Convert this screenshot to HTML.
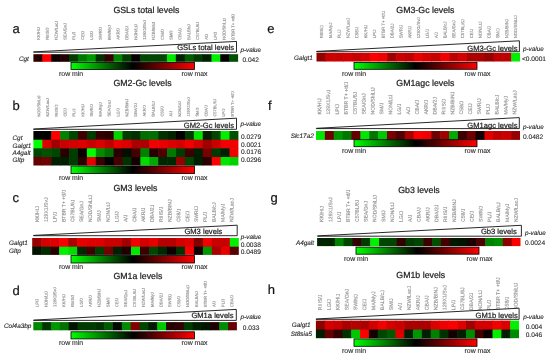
<!DOCTYPE html><html><head><meta charset="utf-8"><style>html,body{margin:0;padding:0;background:#fff;width:550px;height:359px;overflow:hidden}svg{display:block;will-change:transform;filter:blur(0.3px)}</style></head><body>
<svg width="550" height="359" viewBox="0 0 550 359" font-family='"Liberation Sans", sans-serif'>
<defs><linearGradient id="cbg" x1="0" x2="1" y1="0" y2="0"><stop offset="0" stop-color="#00ff00"/><stop offset="0.5" stop-color="#000"/><stop offset="1" stop-color="#ff0000"/></linearGradient></defs>
<style>.k{stroke:#222;stroke-width:0.22px}.s{stroke-width:0.12px}text{text-rendering:geometricPrecision}</style>
<rect width="550" height="359" fill="#fff"/>
<g><text x="12.4" y="33.0" font-size="13" fill="#111" class="k">a</text><text x="113.4" y="12.8" font-size="8.8" fill="#222" class="k">GSLs total levels</text><text transform="translate(39.93,39.80) rotate(-89.7) scale(0.25)" text-rendering="geometricPrecision" font-size="16.40" fill="#959595" stroke="#959595" stroke-width="0.6">KK/HIJ</text><text transform="translate(48.76,39.80) rotate(-89.7) scale(0.25)" text-rendering="geometricPrecision" font-size="16.40" fill="#959595" stroke="#959595" stroke-width="0.6">RIIIS/J</text><text transform="translate(57.60,39.80) rotate(-89.7) scale(0.25)" text-rendering="geometricPrecision" font-size="16.40" fill="#959595" stroke="#959595" stroke-width="0.6">NZW/LacJ</text><text transform="translate(66.44,39.80) rotate(-89.7) scale(0.25)" text-rendering="geometricPrecision" font-size="16.40" fill="#959595" stroke="#959595" stroke-width="0.6">SEA/GnJ</text><text transform="translate(75.28,39.80) rotate(-89.7) scale(0.25)" text-rendering="geometricPrecision" font-size="16.40" fill="#959595" stroke="#959595" stroke-width="0.6">PL/J</text><text transform="translate(84.12,39.80) rotate(-89.7) scale(0.25)" text-rendering="geometricPrecision" font-size="16.40" fill="#959595" stroke="#959595" stroke-width="0.6">CE/J</text><text transform="translate(92.96,39.80) rotate(-89.7) scale(0.25)" text-rendering="geometricPrecision" font-size="16.40" fill="#959595" stroke="#959595" stroke-width="0.6">LG/J</text><text transform="translate(101.80,39.80) rotate(-89.7) scale(0.25)" text-rendering="geometricPrecision" font-size="16.40" fill="#959595" stroke="#959595" stroke-width="0.6">SWR/J</text><text transform="translate(110.64,39.80) rotate(-89.7) scale(0.25)" text-rendering="geometricPrecision" font-size="16.40" fill="#959595" stroke="#959595" stroke-width="0.6">MA/MyJ</text><text transform="translate(119.47,39.80) rotate(-89.7) scale(0.25)" text-rendering="geometricPrecision" font-size="16.40" fill="#959595" stroke="#959595" stroke-width="0.6">AKR/J</text><text transform="translate(128.31,39.80) rotate(-89.7) scale(0.25)" text-rendering="geometricPrecision" font-size="16.40" fill="#959595" stroke="#959595" stroke-width="0.6">DBA/2J</text><text transform="translate(137.15,39.80) rotate(-89.7) scale(0.25)" text-rendering="geometricPrecision" font-size="16.40" fill="#959595" stroke="#959595" stroke-width="0.6">NON/LtJ</text><text transform="translate(145.99,39.80) rotate(-89.7) scale(0.25)" text-rendering="geometricPrecision" font-size="16.40" fill="#959595" stroke="#959595" stroke-width="0.6">129X1/SvJ</text><text transform="translate(154.83,39.80) rotate(-89.7) scale(0.25)" text-rendering="geometricPrecision" font-size="16.40" fill="#959595" stroke="#959595" stroke-width="0.6">NZB/BINJ</text><text transform="translate(163.67,39.80) rotate(-89.7) scale(0.25)" text-rendering="geometricPrecision" font-size="16.40" fill="#959595" stroke="#959595" stroke-width="0.6">C58/J</text><text transform="translate(172.51,39.80) rotate(-89.7) scale(0.25)" text-rendering="geometricPrecision" font-size="16.40" fill="#959595" stroke="#959595" stroke-width="0.6">SM/J</text><text transform="translate(181.34,39.80) rotate(-89.7) scale(0.25)" text-rendering="geometricPrecision" font-size="16.40" fill="#959595" stroke="#959595" stroke-width="0.6">CBA/J</text><text transform="translate(190.18,39.80) rotate(-89.7) scale(0.25)" text-rendering="geometricPrecision" font-size="16.40" fill="#959595" stroke="#959595" stroke-width="0.6">BALB/cJ</text><text transform="translate(199.02,39.80) rotate(-89.7) scale(0.25)" text-rendering="geometricPrecision" font-size="16.40" fill="#959595" stroke="#959595" stroke-width="0.6">C57BL/6J</text><text transform="translate(207.86,39.80) rotate(-89.7) scale(0.25)" text-rendering="geometricPrecision" font-size="16.40" fill="#959595" stroke="#959595" stroke-width="0.6">A/J</text><text transform="translate(216.70,39.80) rotate(-89.7) scale(0.25)" text-rendering="geometricPrecision" font-size="16.40" fill="#959595" stroke="#959595" stroke-width="0.6">LP/J</text><text transform="translate(225.54,39.80) rotate(-89.7) scale(0.25)" text-rendering="geometricPrecision" font-size="16.40" fill="#959595" stroke="#959595" stroke-width="0.6">NOD/ShiLtJ</text><text transform="translate(234.38,39.80) rotate(-89.7) scale(0.25)" text-rendering="geometricPrecision" font-size="16.40" fill="#959595" stroke="#959595" stroke-width="0.6">BTBR T+ +tf/J</text><polygon points="33.5,51.900000000000006 236.5,41.4 236.5,52.2 33.5,52.2" fill="#fff" stroke="#111" stroke-width="0.9" stroke-linejoin="miter"/><text x="177.2" y="50.4" font-size="7.6" fill="#222" class="k">GSLs total levels</text><rect x="33.40" y="54.2" width="9.50" height="7.60" fill="rgb(40,0,0)"/><rect x="42.30" y="54.2" width="9.50" height="7.60" fill="rgb(255,0,0)"/><rect x="51.20" y="54.2" width="9.50" height="7.60" fill="rgb(10,0,0)"/><rect x="60.10" y="54.2" width="9.50" height="7.60" fill="rgb(35,0,0)"/><rect x="69.00" y="54.2" width="9.50" height="7.60" fill="rgb(0,60,0)"/><rect x="77.90" y="54.2" width="9.50" height="7.60" fill="rgb(0,120,0)"/><rect x="86.80" y="54.2" width="9.50" height="7.60" fill="rgb(0,150,0)"/><rect x="95.70" y="54.2" width="9.50" height="7.60" fill="rgb(0,50,0)"/><rect x="104.60" y="54.2" width="9.50" height="7.60" fill="rgb(50,0,0)"/><rect x="113.50" y="54.2" width="9.50" height="7.60" fill="rgb(0,130,0)"/><rect x="122.40" y="54.2" width="9.50" height="7.60" fill="rgb(0,60,0)"/><rect x="131.30" y="54.2" width="9.50" height="7.60" fill="rgb(0,0,0)"/><rect x="140.20" y="54.2" width="9.50" height="7.60" fill="rgb(0,70,0)"/><rect x="149.10" y="54.2" width="9.50" height="7.60" fill="rgb(0,70,0)"/><rect x="158.00" y="54.2" width="9.50" height="7.60" fill="rgb(0,70,0)"/><rect x="166.90" y="54.2" width="9.50" height="7.60" fill="rgb(0,230,0)"/><rect x="175.80" y="54.2" width="9.50" height="7.60" fill="rgb(0,30,0)"/><rect x="184.70" y="54.2" width="9.50" height="7.60" fill="rgb(0,90,0)"/><rect x="193.60" y="54.2" width="9.50" height="7.60" fill="rgb(0,60,0)"/><rect x="202.50" y="54.2" width="9.50" height="7.60" fill="rgb(0,30,0)"/><rect x="211.40" y="54.2" width="9.50" height="7.60" fill="rgb(0,240,0)"/><rect x="220.30" y="54.2" width="9.50" height="7.60" fill="rgb(0,0,0)"/><rect x="229.20" y="54.2" width="8.90" height="7.60" fill="rgb(0,80,0)"/><text x="18.9" y="60.6" font-size="6.4" font-style="italic" fill="#2a2a2a" class="k s">Cgt</text><text x="240.4" y="51.8" font-size="6.3" font-style="italic" fill="#2a2a2a" class="k s">p-value</text><text x="242.4" y="61.8" font-size="6.6" fill="#2a2a2a" class="k s">0.042</text><rect x="71" y="62.4" width="123.5" height="7.10" fill="url(#cbg)" stroke="#000" stroke-width="0.8"/><text x="59.0" y="75.8" font-size="6.9" fill="#333" class="k s">row min</text><text x="181.5" y="75.8" font-size="6.9" fill="#333" class="k s">row max</text></g>
<g><text x="12.4" y="110.0" font-size="13" fill="#111" class="k">b</text><text x="113.4" y="86.0" font-size="8.8" fill="#222" class="k">GM2-Gc levels</text><text transform="translate(40.14,116.60) rotate(-89.7) scale(0.25)" text-rendering="geometricPrecision" font-size="16.00" fill="#959595" stroke="#959595" stroke-width="0.6">NOD/ShiLtJ</text><text transform="translate(48.94,116.60) rotate(-89.7) scale(0.25)" text-rendering="geometricPrecision" font-size="16.00" fill="#959595" stroke="#959595" stroke-width="0.6">NZW/LacJ</text><text transform="translate(57.75,116.60) rotate(-89.7) scale(0.25)" text-rendering="geometricPrecision" font-size="16.00" fill="#959595" stroke="#959595" stroke-width="0.6">RIIIS/J</text><text transform="translate(66.55,116.60) rotate(-89.7) scale(0.25)" text-rendering="geometricPrecision" font-size="16.00" fill="#959595" stroke="#959595" stroke-width="0.6">CE/J</text><text transform="translate(75.36,116.60) rotate(-89.7) scale(0.25)" text-rendering="geometricPrecision" font-size="16.00" fill="#959595" stroke="#959595" stroke-width="0.6">PL/J</text><text transform="translate(84.16,116.60) rotate(-89.7) scale(0.25)" text-rendering="geometricPrecision" font-size="16.00" fill="#959595" stroke="#959595" stroke-width="0.6">KK/HIJ</text><text transform="translate(92.97,116.60) rotate(-89.7) scale(0.25)" text-rendering="geometricPrecision" font-size="16.00" fill="#959595" stroke="#959595" stroke-width="0.6">SWR/J</text><text transform="translate(101.77,116.60) rotate(-89.7) scale(0.25)" text-rendering="geometricPrecision" font-size="16.00" fill="#959595" stroke="#959595" stroke-width="0.6">MA/MyJ</text><text transform="translate(110.58,116.60) rotate(-89.7) scale(0.25)" text-rendering="geometricPrecision" font-size="16.00" fill="#959595" stroke="#959595" stroke-width="0.6">SEA/GnJ</text><text transform="translate(119.38,116.60) rotate(-89.7) scale(0.25)" text-rendering="geometricPrecision" font-size="16.00" fill="#959595" stroke="#959595" stroke-width="0.6">LG/J</text><text transform="translate(128.19,116.60) rotate(-89.7) scale(0.25)" text-rendering="geometricPrecision" font-size="16.00" fill="#959595" stroke="#959595" stroke-width="0.6">NZB/BINJ</text><text transform="translate(136.99,116.60) rotate(-89.7) scale(0.25)" text-rendering="geometricPrecision" font-size="16.00" fill="#959595" stroke="#959595" stroke-width="0.6">DBA/2J</text><text transform="translate(145.79,116.60) rotate(-89.7) scale(0.25)" text-rendering="geometricPrecision" font-size="16.00" fill="#959595" stroke="#959595" stroke-width="0.6">AKR/J</text><text transform="translate(154.60,116.60) rotate(-89.7) scale(0.25)" text-rendering="geometricPrecision" font-size="16.00" fill="#959595" stroke="#959595" stroke-width="0.6">BALB/cJ</text><text transform="translate(163.40,116.60) rotate(-89.7) scale(0.25)" text-rendering="geometricPrecision" font-size="16.00" fill="#959595" stroke="#959595" stroke-width="0.6">C58/J</text><text transform="translate(172.21,116.60) rotate(-89.7) scale(0.25)" text-rendering="geometricPrecision" font-size="16.00" fill="#959595" stroke="#959595" stroke-width="0.6">A/J</text><text transform="translate(181.01,116.60) rotate(-89.7) scale(0.25)" text-rendering="geometricPrecision" font-size="16.00" fill="#959595" stroke="#959595" stroke-width="0.6">NON/LtJ</text><text transform="translate(189.82,116.60) rotate(-89.7) scale(0.25)" text-rendering="geometricPrecision" font-size="16.00" fill="#959595" stroke="#959595" stroke-width="0.6">129X1/SvJ</text><text transform="translate(198.62,116.60) rotate(-89.7) scale(0.25)" text-rendering="geometricPrecision" font-size="16.00" fill="#959595" stroke="#959595" stroke-width="0.6">SM/J</text><text transform="translate(207.43,116.60) rotate(-89.7) scale(0.25)" text-rendering="geometricPrecision" font-size="16.00" fill="#959595" stroke="#959595" stroke-width="0.6">CBA/J</text><text transform="translate(216.23,116.60) rotate(-89.7) scale(0.25)" text-rendering="geometricPrecision" font-size="16.00" fill="#959595" stroke="#959595" stroke-width="0.6">C57BL/6J</text><text transform="translate(225.04,116.60) rotate(-89.7) scale(0.25)" text-rendering="geometricPrecision" font-size="16.00" fill="#959595" stroke="#959595" stroke-width="0.6">LP/J</text><text transform="translate(233.84,116.60) rotate(-89.7) scale(0.25)" text-rendering="geometricPrecision" font-size="16.00" fill="#959595" stroke="#959595" stroke-width="0.6">BTBR T+ +tf/J</text><polygon points="33.5,129.0 236.5,118.2 236.5,129.3 33.5,129.3" fill="#fff" stroke="#111" stroke-width="0.9" stroke-linejoin="miter"/><text x="183.8" y="127.7" font-size="7.6" fill="#222" class="k">GM2-Gc levels</text><rect x="33.40" y="131.0" width="9.51" height="9.30" fill="rgb(0,0,0)"/><rect x="42.31" y="131.0" width="9.51" height="9.30" fill="rgb(0,0,0)"/><rect x="51.23" y="131.0" width="9.51" height="9.30" fill="rgb(255,0,0)"/><rect x="60.14" y="131.0" width="9.51" height="9.30" fill="rgb(0,130,0)"/><rect x="69.05" y="131.0" width="9.51" height="9.30" fill="rgb(0,70,0)"/><rect x="77.97" y="131.0" width="9.51" height="9.30" fill="rgb(60,0,0)"/><rect x="86.88" y="131.0" width="9.51" height="9.30" fill="rgb(0,60,0)"/><rect x="95.79" y="131.0" width="9.51" height="9.30" fill="rgb(50,0,0)"/><rect x="104.70" y="131.0" width="9.51" height="9.30" fill="rgb(40,0,0)"/><rect x="113.62" y="131.0" width="9.51" height="9.30" fill="rgb(0,210,0)"/><rect x="122.53" y="131.0" width="9.51" height="9.30" fill="rgb(0,60,0)"/><rect x="131.44" y="131.0" width="9.51" height="9.30" fill="rgb(0,50,0)"/><rect x="140.36" y="131.0" width="9.51" height="9.30" fill="rgb(0,110,0)"/><rect x="149.27" y="131.0" width="9.51" height="9.30" fill="rgb(0,110,0)"/><rect x="158.18" y="131.0" width="9.51" height="9.30" fill="rgb(0,50,0)"/><rect x="167.10" y="131.0" width="9.51" height="9.30" fill="rgb(0,35,0)"/><rect x="176.01" y="131.0" width="9.51" height="9.30" fill="rgb(0,0,0)"/><rect x="184.92" y="131.0" width="9.51" height="9.30" fill="rgb(0,60,0)"/><rect x="193.83" y="131.0" width="9.51" height="9.30" fill="rgb(0,230,0)"/><rect x="202.75" y="131.0" width="9.51" height="9.30" fill="rgb(0,30,0)"/><rect x="211.66" y="131.0" width="9.51" height="9.30" fill="rgb(0,70,0)"/><rect x="220.57" y="131.0" width="9.51" height="9.30" fill="rgb(0,240,0)"/><rect x="229.49" y="131.0" width="8.91" height="9.30" fill="rgb(0,80,0)"/><rect x="33.40" y="139.7" width="9.51" height="9.20" fill="rgb(0,255,0)"/><rect x="42.31" y="139.7" width="9.51" height="9.20" fill="rgb(220,0,0)"/><rect x="51.23" y="139.7" width="9.51" height="9.20" fill="rgb(160,0,0)"/><rect x="60.14" y="139.7" width="9.51" height="9.20" fill="rgb(200,0,0)"/><rect x="69.05" y="139.7" width="9.51" height="9.20" fill="rgb(210,0,0)"/><rect x="77.97" y="139.7" width="9.51" height="9.20" fill="rgb(220,0,0)"/><rect x="86.88" y="139.7" width="9.51" height="9.20" fill="rgb(200,0,0)"/><rect x="95.79" y="139.7" width="9.51" height="9.20" fill="rgb(220,0,0)"/><rect x="104.70" y="139.7" width="9.51" height="9.20" fill="rgb(190,0,0)"/><rect x="113.62" y="139.7" width="9.51" height="9.20" fill="rgb(230,0,0)"/><rect x="122.53" y="139.7" width="9.51" height="9.20" fill="rgb(220,0,0)"/><rect x="131.44" y="139.7" width="9.51" height="9.20" fill="rgb(170,0,0)"/><rect x="140.36" y="139.7" width="9.51" height="9.20" fill="rgb(170,0,0)"/><rect x="149.27" y="139.7" width="9.51" height="9.20" fill="rgb(240,0,0)"/><rect x="158.18" y="139.7" width="9.51" height="9.20" fill="rgb(230,0,0)"/><rect x="167.10" y="139.7" width="9.51" height="9.20" fill="rgb(220,0,0)"/><rect x="176.01" y="139.7" width="9.51" height="9.20" fill="rgb(210,0,0)"/><rect x="184.92" y="139.7" width="9.51" height="9.20" fill="rgb(240,0,0)"/><rect x="193.83" y="139.7" width="9.51" height="9.20" fill="rgb(210,0,0)"/><rect x="202.75" y="139.7" width="9.51" height="9.20" fill="rgb(160,0,0)"/><rect x="211.66" y="139.7" width="9.51" height="9.20" fill="rgb(200,0,0)"/><rect x="220.57" y="139.7" width="9.51" height="9.20" fill="rgb(240,0,0)"/><rect x="229.49" y="139.7" width="8.91" height="9.20" fill="rgb(240,0,0)"/><rect x="33.40" y="148.3" width="9.51" height="9.30" fill="rgb(0,70,0)"/><rect x="42.31" y="148.3" width="9.51" height="9.30" fill="rgb(0,80,0)"/><rect x="51.23" y="148.3" width="9.51" height="9.30" fill="rgb(0,70,0)"/><rect x="60.14" y="148.3" width="9.51" height="9.30" fill="rgb(40,0,0)"/><rect x="69.05" y="148.3" width="9.51" height="9.30" fill="rgb(0,60,0)"/><rect x="77.97" y="148.3" width="9.51" height="9.30" fill="rgb(10,0,0)"/><rect x="86.88" y="148.3" width="9.51" height="9.30" fill="rgb(0,255,0)"/><rect x="95.79" y="148.3" width="9.51" height="9.30" fill="rgb(0,140,0)"/><rect x="104.70" y="148.3" width="9.51" height="9.30" fill="rgb(0,110,0)"/><rect x="113.62" y="148.3" width="9.51" height="9.30" fill="rgb(40,0,0)"/><rect x="122.53" y="148.3" width="9.51" height="9.30" fill="rgb(0,15,0)"/><rect x="131.44" y="148.3" width="9.51" height="9.30" fill="rgb(70,0,0)"/><rect x="140.36" y="148.3" width="9.51" height="9.30" fill="rgb(0,130,0)"/><rect x="149.27" y="148.3" width="9.51" height="9.30" fill="rgb(40,0,0)"/><rect x="158.18" y="148.3" width="9.51" height="9.30" fill="rgb(80,0,0)"/><rect x="167.10" y="148.3" width="9.51" height="9.30" fill="rgb(0,120,0)"/><rect x="176.01" y="148.3" width="9.51" height="9.30" fill="rgb(0,60,0)"/><rect x="184.92" y="148.3" width="9.51" height="9.30" fill="rgb(60,0,0)"/><rect x="193.83" y="148.3" width="9.51" height="9.30" fill="rgb(0,30,0)"/><rect x="202.75" y="148.3" width="9.51" height="9.30" fill="rgb(120,0,0)"/><rect x="211.66" y="148.3" width="9.51" height="9.30" fill="rgb(0,60,0)"/><rect x="220.57" y="148.3" width="9.51" height="9.30" fill="rgb(0,30,0)"/><rect x="229.49" y="148.3" width="8.91" height="9.30" fill="rgb(240,0,0)"/><rect x="33.40" y="157.0" width="9.51" height="8.50" fill="rgb(100,0,0)"/><rect x="42.31" y="157.0" width="9.51" height="8.50" fill="rgb(110,0,0)"/><rect x="51.23" y="157.0" width="9.51" height="8.50" fill="rgb(0,30,0)"/><rect x="60.14" y="157.0" width="9.51" height="8.50" fill="rgb(0,30,0)"/><rect x="69.05" y="157.0" width="9.51" height="8.50" fill="rgb(0,60,0)"/><rect x="77.97" y="157.0" width="9.51" height="8.50" fill="rgb(40,0,0)"/><rect x="86.88" y="157.0" width="9.51" height="8.50" fill="rgb(230,0,0)"/><rect x="95.79" y="157.0" width="9.51" height="8.50" fill="rgb(60,0,0)"/><rect x="104.70" y="157.0" width="9.51" height="8.50" fill="rgb(0,0,0)"/><rect x="113.62" y="157.0" width="9.51" height="8.50" fill="rgb(70,0,0)"/><rect x="122.53" y="157.0" width="9.51" height="8.50" fill="rgb(0,50,0)"/><rect x="131.44" y="157.0" width="9.51" height="8.50" fill="rgb(20,0,0)"/><rect x="140.36" y="157.0" width="9.51" height="8.50" fill="rgb(0,220,0)"/><rect x="149.27" y="157.0" width="9.51" height="8.50" fill="rgb(0,170,0)"/><rect x="158.18" y="157.0" width="9.51" height="8.50" fill="rgb(0,40,0)"/><rect x="167.10" y="157.0" width="9.51" height="8.50" fill="rgb(0,40,0)"/><rect x="176.01" y="157.0" width="9.51" height="8.50" fill="rgb(150,0,0)"/><rect x="184.92" y="157.0" width="9.51" height="8.50" fill="rgb(0,70,0)"/><rect x="193.83" y="157.0" width="9.51" height="8.50" fill="rgb(0,30,0)"/><rect x="202.75" y="157.0" width="9.51" height="8.50" fill="rgb(40,0,0)"/><rect x="211.66" y="157.0" width="9.51" height="8.50" fill="rgb(250,0,0)"/><rect x="220.57" y="157.0" width="9.51" height="8.50" fill="rgb(0,230,0)"/><rect x="229.49" y="157.0" width="8.91" height="8.50" fill="rgb(0,210,0)"/><text x="12.5" y="139.8" font-size="6.4" font-style="italic" fill="#2a2a2a" class="k s">Cgt</text><text x="12.5" y="147.6" font-size="6.4" font-style="italic" fill="#2a2a2a" class="k s">Galgt1</text><text x="12.5" y="155.1" font-size="6.4" font-style="italic" fill="#2a2a2a" class="k s">A4galt</text><text x="12.5" y="162.4" font-size="6.4" font-style="italic" fill="#2a2a2a" class="k s">Gltp</text><text x="240.4" y="126.1" font-size="6.3" font-style="italic" fill="#2a2a2a" class="k s">p-value</text><text x="241" y="139.0" font-size="6.6" fill="#2a2a2a" class="k s">0.0279</text><text x="241" y="147.0" font-size="6.6" fill="#2a2a2a" class="k s">0.0021</text><text x="241" y="153.7" font-size="6.6" fill="#2a2a2a" class="k s">0.0176</text><text x="241" y="161.7" font-size="6.6" fill="#2a2a2a" class="k s">0.0296</text><rect x="71" y="166.0" width="123.5" height="7.60" fill="url(#cbg)" stroke="#000" stroke-width="0.8"/><text x="59.0" y="179.6" font-size="6.9" fill="#333" class="k s">row min</text><text x="181.5" y="179.6" font-size="6.9" fill="#333" class="k s">row max</text></g>
<g><text x="12.4" y="201.7" font-size="13" fill="#111" class="k">c</text><text x="113.4" y="191.3" font-size="8.8" fill="#222" class="k">GM3 levels</text><text transform="translate(38.94,222.10) rotate(-89.7) scale(0.25)" text-rendering="geometricPrecision" font-size="20.40" fill="#959595" stroke="#959595" stroke-width="0.6">KK/HIJ</text><text transform="translate(47.77,222.10) rotate(-89.7) scale(0.25)" text-rendering="geometricPrecision" font-size="20.40" fill="#959595" stroke="#959595" stroke-width="0.6">129X1/SvJ</text><text transform="translate(56.61,222.10) rotate(-89.7) scale(0.25)" text-rendering="geometricPrecision" font-size="20.40" fill="#959595" stroke="#959595" stroke-width="0.6">LP/J</text><text transform="translate(65.45,222.10) rotate(-89.7) scale(0.25)" text-rendering="geometricPrecision" font-size="20.40" fill="#959595" stroke="#959595" stroke-width="0.6">BTBR T+ +tf/J</text><text transform="translate(74.28,222.10) rotate(-89.7) scale(0.25)" text-rendering="geometricPrecision" font-size="20.40" fill="#959595" stroke="#959595" stroke-width="0.6">C57BL/6J</text><text transform="translate(83.12,222.10) rotate(-89.7) scale(0.25)" text-rendering="geometricPrecision" font-size="20.40" fill="#959595" stroke="#959595" stroke-width="0.6">SEA/GnJ</text><text transform="translate(91.95,222.10) rotate(-89.7) scale(0.25)" text-rendering="geometricPrecision" font-size="20.40" fill="#959595" stroke="#959595" stroke-width="0.6">NOD/ShiLtJ</text><text transform="translate(100.79,222.10) rotate(-89.7) scale(0.25)" text-rendering="geometricPrecision" font-size="20.40" fill="#959595" stroke="#959595" stroke-width="0.6">SM/J</text><text transform="translate(109.63,222.10) rotate(-89.7) scale(0.25)" text-rendering="geometricPrecision" font-size="20.40" fill="#959595" stroke="#959595" stroke-width="0.6">NON/LtJ</text><text transform="translate(118.46,222.10) rotate(-89.7) scale(0.25)" text-rendering="geometricPrecision" font-size="20.40" fill="#959595" stroke="#959595" stroke-width="0.6">LG/J</text><text transform="translate(127.30,222.10) rotate(-89.7) scale(0.25)" text-rendering="geometricPrecision" font-size="20.40" fill="#959595" stroke="#959595" stroke-width="0.6">A/J</text><text transform="translate(136.14,222.10) rotate(-89.7) scale(0.25)" text-rendering="geometricPrecision" font-size="20.40" fill="#959595" stroke="#959595" stroke-width="0.6">CBA/J</text><text transform="translate(144.97,222.10) rotate(-89.7) scale(0.25)" text-rendering="geometricPrecision" font-size="20.40" fill="#959595" stroke="#959595" stroke-width="0.6">AKR/J</text><text transform="translate(153.81,222.10) rotate(-89.7) scale(0.25)" text-rendering="geometricPrecision" font-size="20.40" fill="#959595" stroke="#959595" stroke-width="0.6">DBA/2J</text><text transform="translate(162.65,222.10) rotate(-89.7) scale(0.25)" text-rendering="geometricPrecision" font-size="20.40" fill="#959595" stroke="#959595" stroke-width="0.6">RIIIS/J</text><text transform="translate(171.48,222.10) rotate(-89.7) scale(0.25)" text-rendering="geometricPrecision" font-size="20.40" fill="#959595" stroke="#959595" stroke-width="0.6">NZB/BINJ</text><text transform="translate(180.32,222.10) rotate(-89.7) scale(0.25)" text-rendering="geometricPrecision" font-size="20.40" fill="#959595" stroke="#959595" stroke-width="0.6">C58/J</text><text transform="translate(189.15,222.10) rotate(-89.7) scale(0.25)" text-rendering="geometricPrecision" font-size="20.40" fill="#959595" stroke="#959595" stroke-width="0.6">CE/J</text><text transform="translate(197.99,222.10) rotate(-89.7) scale(0.25)" text-rendering="geometricPrecision" font-size="20.40" fill="#959595" stroke="#959595" stroke-width="0.6">SWR/J</text><text transform="translate(206.83,222.10) rotate(-89.7) scale(0.25)" text-rendering="geometricPrecision" font-size="20.40" fill="#959595" stroke="#959595" stroke-width="0.6">PL/J</text><text transform="translate(215.66,222.10) rotate(-89.7) scale(0.25)" text-rendering="geometricPrecision" font-size="20.40" fill="#959595" stroke="#959595" stroke-width="0.6">BALB/cJ</text><text transform="translate(224.50,222.10) rotate(-89.7) scale(0.25)" text-rendering="geometricPrecision" font-size="20.40" fill="#959595" stroke="#959595" stroke-width="0.6">MA/MyJ</text><text transform="translate(233.34,222.10) rotate(-89.7) scale(0.25)" text-rendering="geometricPrecision" font-size="20.40" fill="#959595" stroke="#959595" stroke-width="0.6">NZW/LacJ</text><polygon points="33.5,235.39999999999998 237.2,225.2 237.2,235.7 33.5,235.7" fill="#fff" stroke="#111" stroke-width="0.9" stroke-linejoin="miter"/><text x="184.4" y="234.3" font-size="7.6" fill="#222" class="k">GM3 levels</text><rect x="32.20" y="238.0" width="9.58" height="9.30" fill="rgb(150,0,0)"/><rect x="41.18" y="238.0" width="9.58" height="9.30" fill="rgb(210,0,0)"/><rect x="50.17" y="238.0" width="9.58" height="9.30" fill="rgb(220,0,0)"/><rect x="59.15" y="238.0" width="9.58" height="9.30" fill="rgb(250,0,0)"/><rect x="68.13" y="238.0" width="9.58" height="9.30" fill="rgb(170,0,0)"/><rect x="77.11" y="238.0" width="9.58" height="9.30" fill="rgb(230,0,0)"/><rect x="86.10" y="238.0" width="9.58" height="9.30" fill="rgb(220,0,0)"/><rect x="95.08" y="238.0" width="9.58" height="9.30" fill="rgb(220,0,0)"/><rect x="104.06" y="238.0" width="9.58" height="9.30" fill="rgb(200,0,0)"/><rect x="113.04" y="238.0" width="9.58" height="9.30" fill="rgb(200,0,0)"/><rect x="122.03" y="238.0" width="9.58" height="9.30" fill="rgb(160,0,0)"/><rect x="131.01" y="238.0" width="9.58" height="9.30" fill="rgb(240,0,0)"/><rect x="139.99" y="238.0" width="9.58" height="9.30" fill="rgb(210,0,0)"/><rect x="148.97" y="238.0" width="9.58" height="9.30" fill="rgb(230,0,0)"/><rect x="157.96" y="238.0" width="9.58" height="9.30" fill="rgb(180,0,0)"/><rect x="166.94" y="238.0" width="9.58" height="9.30" fill="rgb(180,0,0)"/><rect x="175.92" y="238.0" width="9.58" height="9.30" fill="rgb(210,0,0)"/><rect x="184.90" y="238.0" width="9.58" height="9.30" fill="rgb(220,0,0)"/><rect x="193.89" y="238.0" width="9.58" height="9.30" fill="rgb(130,0,0)"/><rect x="202.87" y="238.0" width="9.58" height="9.30" fill="rgb(240,0,0)"/><rect x="211.85" y="238.0" width="9.58" height="9.30" fill="rgb(200,0,0)"/><rect x="220.83" y="238.0" width="9.58" height="9.30" fill="rgb(200,0,0)"/><rect x="229.82" y="238.0" width="8.98" height="9.30" fill="rgb(0,240,0)"/><rect x="32.20" y="246.7" width="9.58" height="8.20" fill="rgb(0,20,0)"/><rect x="41.18" y="246.7" width="9.58" height="8.20" fill="rgb(0,45,0)"/><rect x="50.17" y="246.7" width="9.58" height="8.20" fill="rgb(40,0,0)"/><rect x="59.15" y="246.7" width="9.58" height="8.20" fill="rgb(0,240,0)"/><rect x="68.13" y="246.7" width="9.58" height="8.20" fill="rgb(0,220,0)"/><rect x="77.11" y="246.7" width="9.58" height="8.20" fill="rgb(0,40,0)"/><rect x="86.10" y="246.7" width="9.58" height="8.20" fill="rgb(60,0,0)"/><rect x="95.08" y="246.7" width="9.58" height="8.20" fill="rgb(0,60,0)"/><rect x="104.06" y="246.7" width="9.58" height="8.20" fill="rgb(110,0,0)"/><rect x="113.04" y="246.7" width="9.58" height="8.20" fill="rgb(0,30,0)"/><rect x="122.03" y="246.7" width="9.58" height="8.20" fill="rgb(30,0,0)"/><rect x="131.01" y="246.7" width="9.58" height="8.20" fill="rgb(0,230,0)"/><rect x="139.99" y="246.7" width="9.58" height="8.20" fill="rgb(60,0,0)"/><rect x="148.97" y="246.7" width="9.58" height="8.20" fill="rgb(0,70,0)"/><rect x="157.96" y="246.7" width="9.58" height="8.20" fill="rgb(0,40,0)"/><rect x="166.94" y="246.7" width="9.58" height="8.20" fill="rgb(10,0,0)"/><rect x="175.92" y="246.7" width="9.58" height="8.20" fill="rgb(0,50,0)"/><rect x="184.90" y="246.7" width="9.58" height="8.20" fill="rgb(250,0,0)"/><rect x="193.89" y="246.7" width="9.58" height="8.20" fill="rgb(20,0,0)"/><rect x="202.87" y="246.7" width="9.58" height="8.20" fill="rgb(0,150,0)"/><rect x="211.85" y="246.7" width="9.58" height="8.20" fill="rgb(170,0,0)"/><rect x="220.83" y="246.7" width="9.58" height="8.20" fill="rgb(230,0,0)"/><rect x="229.82" y="246.7" width="8.98" height="8.20" fill="rgb(90,0,0)"/><text x="9.0" y="245.0" font-size="6.4" font-style="italic" fill="#2a2a2a" class="k s">Galgt1</text><text x="9.0" y="252.5" font-size="6.4" font-style="italic" fill="#2a2a2a" class="k s">Gltp</text><text x="240.7" y="239.0" font-size="6.3" font-style="italic" fill="#2a2a2a" class="k s">p-value</text><text x="240.7" y="246.8" font-size="6.6" fill="#2a2a2a" class="k s">0.0038</text><text x="240.7" y="253.6" font-size="6.6" fill="#2a2a2a" class="k s">0.0489</text><rect x="71" y="255.6" width="123.5" height="7.40" fill="url(#cbg)" stroke="#000" stroke-width="0.8"/><text x="59.0" y="269.3" font-size="6.9" fill="#333" class="k s">row min</text><text x="181.5" y="269.3" font-size="6.9" fill="#333" class="k s">row max</text></g>
<g><text x="12.4" y="294.5" font-size="13" fill="#111" class="k">d</text><text x="113.4" y="279.1" font-size="8.8" fill="#222" class="k">GM1a levels</text><text transform="translate(38.58,306.90) rotate(-89.7) scale(0.25)" text-rendering="geometricPrecision" font-size="16.40" fill="#959595" stroke="#959595" stroke-width="0.6">LP/J</text><text transform="translate(47.43,306.90) rotate(-89.7) scale(0.25)" text-rendering="geometricPrecision" font-size="16.40" fill="#959595" stroke="#959595" stroke-width="0.6">NON/LtJ</text><text transform="translate(56.28,306.90) rotate(-89.7) scale(0.25)" text-rendering="geometricPrecision" font-size="16.40" fill="#959595" stroke="#959595" stroke-width="0.6">129X1/SvJ</text><text transform="translate(65.13,306.90) rotate(-89.7) scale(0.25)" text-rendering="geometricPrecision" font-size="16.40" fill="#959595" stroke="#959595" stroke-width="0.6">KK/HIJ</text><text transform="translate(73.98,306.90) rotate(-89.7) scale(0.25)" text-rendering="geometricPrecision" font-size="16.40" fill="#959595" stroke="#959595" stroke-width="0.6">RIIIS/J</text><text transform="translate(82.83,306.90) rotate(-89.7) scale(0.25)" text-rendering="geometricPrecision" font-size="16.40" fill="#959595" stroke="#959595" stroke-width="0.6">LG/J</text><text transform="translate(91.68,306.90) rotate(-89.7) scale(0.25)" text-rendering="geometricPrecision" font-size="16.40" fill="#959595" stroke="#959595" stroke-width="0.6">AKR/J</text><text transform="translate(100.53,306.90) rotate(-89.7) scale(0.25)" text-rendering="geometricPrecision" font-size="16.40" fill="#959595" stroke="#959595" stroke-width="0.6">NZB/BINJ</text><text transform="translate(109.38,306.90) rotate(-89.7) scale(0.25)" text-rendering="geometricPrecision" font-size="16.40" fill="#959595" stroke="#959595" stroke-width="0.6">SM/J</text><text transform="translate(118.23,306.90) rotate(-89.7) scale(0.25)" text-rendering="geometricPrecision" font-size="16.40" fill="#959595" stroke="#959595" stroke-width="0.6">CE/J</text><text transform="translate(127.08,306.90) rotate(-89.7) scale(0.25)" text-rendering="geometricPrecision" font-size="16.40" fill="#959595" stroke="#959595" stroke-width="0.6">SEA/GnJ</text><text transform="translate(135.93,306.90) rotate(-89.7) scale(0.25)" text-rendering="geometricPrecision" font-size="16.40" fill="#959595" stroke="#959595" stroke-width="0.6">C57BL/6J</text><text transform="translate(144.78,306.90) rotate(-89.7) scale(0.25)" text-rendering="geometricPrecision" font-size="16.40" fill="#959595" stroke="#959595" stroke-width="0.6">NZW/LacJ</text><text transform="translate(153.63,306.90) rotate(-89.7) scale(0.25)" text-rendering="geometricPrecision" font-size="16.40" fill="#959595" stroke="#959595" stroke-width="0.6">MA/MyJ</text><text transform="translate(162.48,306.90) rotate(-89.7) scale(0.25)" text-rendering="geometricPrecision" font-size="16.40" fill="#959595" stroke="#959595" stroke-width="0.6">DBA/2J</text><text transform="translate(171.33,306.90) rotate(-89.7) scale(0.25)" text-rendering="geometricPrecision" font-size="16.40" fill="#959595" stroke="#959595" stroke-width="0.6">SWR/J</text><text transform="translate(180.18,306.90) rotate(-89.7) scale(0.25)" text-rendering="geometricPrecision" font-size="16.40" fill="#959595" stroke="#959595" stroke-width="0.6">C58/J</text><text transform="translate(189.03,306.90) rotate(-89.7) scale(0.25)" text-rendering="geometricPrecision" font-size="16.40" fill="#959595" stroke="#959595" stroke-width="0.6">NOD/ShiLtJ</text><text transform="translate(197.88,306.90) rotate(-89.7) scale(0.25)" text-rendering="geometricPrecision" font-size="16.40" fill="#959595" stroke="#959595" stroke-width="0.6">BALB/cJ</text><text transform="translate(206.73,306.90) rotate(-89.7) scale(0.25)" text-rendering="geometricPrecision" font-size="16.40" fill="#959595" stroke="#959595" stroke-width="0.6">BTBR T+ +tf/J</text><text transform="translate(215.58,306.90) rotate(-89.7) scale(0.25)" text-rendering="geometricPrecision" font-size="16.40" fill="#959595" stroke="#959595" stroke-width="0.6">A/J</text><text transform="translate(224.43,306.90) rotate(-89.7) scale(0.25)" text-rendering="geometricPrecision" font-size="16.40" fill="#959595" stroke="#959595" stroke-width="0.6">PL/J</text><text transform="translate(233.28,306.90) rotate(-89.7) scale(0.25)" text-rendering="geometricPrecision" font-size="16.40" fill="#959595" stroke="#959595" stroke-width="0.6">CBA/J</text><polygon points="33.5,320.09999999999997 236.3,309.4 236.3,320.4 33.5,320.4" fill="#fff" stroke="#111" stroke-width="0.9" stroke-linejoin="miter"/><text x="191.4" y="318.2" font-size="7.6" fill="#222" class="k">GM1a levels</text><rect x="33.30" y="322.1" width="9.45" height="8.20" fill="rgb(0,135,0)"/><rect x="42.15" y="322.1" width="9.45" height="8.20" fill="rgb(0,55,0)"/><rect x="51.00" y="322.1" width="9.45" height="8.20" fill="rgb(0,150,0)"/><rect x="59.86" y="322.1" width="9.45" height="8.20" fill="rgb(0,115,0)"/><rect x="68.71" y="322.1" width="9.45" height="8.20" fill="rgb(0,20,0)"/><rect x="77.56" y="322.1" width="9.45" height="8.20" fill="rgb(0,60,0)"/><rect x="86.41" y="322.1" width="9.45" height="8.20" fill="rgb(0,60,0)"/><rect x="95.27" y="322.1" width="9.45" height="8.20" fill="rgb(0,50,0)"/><rect x="104.12" y="322.1" width="9.45" height="8.20" fill="rgb(0,90,0)"/><rect x="112.97" y="322.1" width="9.45" height="8.20" fill="rgb(0,10,0)"/><rect x="121.82" y="322.1" width="9.45" height="8.20" fill="rgb(0,140,0)"/><rect x="130.67" y="322.1" width="9.45" height="8.20" fill="rgb(130,0,0)"/><rect x="139.53" y="322.1" width="9.45" height="8.20" fill="rgb(0,70,0)"/><rect x="148.38" y="322.1" width="9.45" height="8.20" fill="rgb(0,25,0)"/><rect x="157.23" y="322.1" width="9.45" height="8.20" fill="rgb(0,200,0)"/><rect x="166.08" y="322.1" width="9.45" height="8.20" fill="rgb(40,0,0)"/><rect x="174.93" y="322.1" width="9.45" height="8.20" fill="rgb(50,0,0)"/><rect x="183.79" y="322.1" width="9.45" height="8.20" fill="rgb(0,60,0)"/><rect x="192.64" y="322.1" width="9.45" height="8.20" fill="rgb(0,30,0)"/><rect x="201.49" y="322.1" width="9.45" height="8.20" fill="rgb(0,20,0)"/><rect x="210.34" y="322.1" width="9.45" height="8.20" fill="rgb(30,0,0)"/><rect x="219.20" y="322.1" width="9.45" height="8.20" fill="rgb(0,140,0)"/><rect x="228.05" y="322.1" width="8.85" height="8.20" fill="rgb(100,0,0)"/><text x="4.0" y="327.9" font-size="6.4" font-style="italic" fill="#2a2a2a" class="k s">Col4a3bp</text><text x="240.4" y="319.4" font-size="6.3" font-style="italic" fill="#2a2a2a" class="k s">p-value</text><text x="242.8" y="329.8" font-size="6.6" fill="#2a2a2a" class="k s">0.033</text><rect x="71" y="331.8" width="123.5" height="7.10" fill="url(#cbg)" stroke="#000" stroke-width="0.8"/><text x="59.0" y="345.2" font-size="6.9" fill="#333" class="k s">row min</text><text x="181.5" y="345.2" font-size="6.9" fill="#333" class="k s">row max</text></g>
<g><text x="267.3" y="33.4" font-size="13" fill="#111" class="k">e</text><text x="396.3" y="12.8" font-size="8.8" fill="#222" class="k">GM3-Gc levels</text><text transform="translate(323.07,38.30) rotate(-89.7) scale(0.25)" text-rendering="geometricPrecision" font-size="17.40" fill="#959595" stroke="#959595" stroke-width="0.6">RIIIS/J</text><text transform="translate(331.88,38.30) rotate(-89.7) scale(0.25)" text-rendering="geometricPrecision" font-size="17.40" fill="#959595" stroke="#959595" stroke-width="0.6">MA/MyJ</text><text transform="translate(340.69,38.30) rotate(-89.7) scale(0.25)" text-rendering="geometricPrecision" font-size="17.40" fill="#959595" stroke="#959595" stroke-width="0.6">PL/J</text><text transform="translate(349.51,38.30) rotate(-89.7) scale(0.25)" text-rendering="geometricPrecision" font-size="17.40" fill="#959595" stroke="#959595" stroke-width="0.6">NZW/LacJ</text><text transform="translate(358.32,38.30) rotate(-89.7) scale(0.25)" text-rendering="geometricPrecision" font-size="17.40" fill="#959595" stroke="#959595" stroke-width="0.6">C58/J</text><text transform="translate(367.13,38.30) rotate(-89.7) scale(0.25)" text-rendering="geometricPrecision" font-size="17.40" fill="#959595" stroke="#959595" stroke-width="0.6">KK/HIJ</text><text transform="translate(375.95,38.30) rotate(-89.7) scale(0.25)" text-rendering="geometricPrecision" font-size="17.40" fill="#959595" stroke="#959595" stroke-width="0.6">LP/J</text><text transform="translate(384.76,38.30) rotate(-89.7) scale(0.25)" text-rendering="geometricPrecision" font-size="17.40" fill="#959595" stroke="#959595" stroke-width="0.6">BTBR T+ +tf/J</text><text transform="translate(393.58,38.30) rotate(-89.7) scale(0.25)" text-rendering="geometricPrecision" font-size="17.40" fill="#959595" stroke="#959595" stroke-width="0.6">DBA/2J</text><text transform="translate(402.39,38.30) rotate(-89.7) scale(0.25)" text-rendering="geometricPrecision" font-size="17.40" fill="#959595" stroke="#959595" stroke-width="0.6">SWR/J</text><text transform="translate(411.20,38.30) rotate(-89.7) scale(0.25)" text-rendering="geometricPrecision" font-size="17.40" fill="#959595" stroke="#959595" stroke-width="0.6">AKR/J</text><text transform="translate(420.02,38.30) rotate(-89.7) scale(0.25)" text-rendering="geometricPrecision" font-size="17.40" fill="#959595" stroke="#959595" stroke-width="0.6">129X1/SvJ</text><text transform="translate(428.83,38.30) rotate(-89.7) scale(0.25)" text-rendering="geometricPrecision" font-size="17.40" fill="#959595" stroke="#959595" stroke-width="0.6">LG/J</text><text transform="translate(437.64,38.30) rotate(-89.7) scale(0.25)" text-rendering="geometricPrecision" font-size="17.40" fill="#959595" stroke="#959595" stroke-width="0.6">A/J</text><text transform="translate(446.46,38.30) rotate(-89.7) scale(0.25)" text-rendering="geometricPrecision" font-size="17.40" fill="#959595" stroke="#959595" stroke-width="0.6">BALB/cJ</text><text transform="translate(455.27,38.30) rotate(-89.7) scale(0.25)" text-rendering="geometricPrecision" font-size="17.40" fill="#959595" stroke="#959595" stroke-width="0.6">SEA/GnJ</text><text transform="translate(464.08,38.30) rotate(-89.7) scale(0.25)" text-rendering="geometricPrecision" font-size="17.40" fill="#959595" stroke="#959595" stroke-width="0.6">C57BL/6J</text><text transform="translate(472.90,38.30) rotate(-89.7) scale(0.25)" text-rendering="geometricPrecision" font-size="17.40" fill="#959595" stroke="#959595" stroke-width="0.6">CE/J</text><text transform="translate(481.71,38.30) rotate(-89.7) scale(0.25)" text-rendering="geometricPrecision" font-size="17.40" fill="#959595" stroke="#959595" stroke-width="0.6">NON/LtJ</text><text transform="translate(490.53,38.30) rotate(-89.7) scale(0.25)" text-rendering="geometricPrecision" font-size="17.40" fill="#959595" stroke="#959595" stroke-width="0.6">CBA/J</text><text transform="translate(499.34,38.30) rotate(-89.7) scale(0.25)" text-rendering="geometricPrecision" font-size="17.40" fill="#959595" stroke="#959595" stroke-width="0.6">SM/J</text><text transform="translate(508.15,38.30) rotate(-89.7) scale(0.25)" text-rendering="geometricPrecision" font-size="17.40" fill="#959595" stroke="#959595" stroke-width="0.6">NZB/BINJ</text><text transform="translate(516.97,38.30) rotate(-89.7) scale(0.25)" text-rendering="geometricPrecision" font-size="17.40" fill="#959595" stroke="#959595" stroke-width="0.6">NOD/ShiLtJ</text><polygon points="316.5,51.400000000000006 519.4,40.8 519.4,51.7 316.5,51.7" fill="#fff" stroke="#111" stroke-width="0.9" stroke-linejoin="miter"/><text x="467.3" y="51.0" font-size="7.6" fill="#222" class="k">GM3-Gc levels</text><rect x="316.50" y="52.8" width="9.45" height="8.70" fill="rgb(145,0,0)"/><rect x="325.35" y="52.8" width="9.45" height="8.70" fill="rgb(200,0,0)"/><rect x="334.20" y="52.8" width="9.45" height="8.70" fill="rgb(200,0,0)"/><rect x="343.04" y="52.8" width="9.45" height="8.70" fill="rgb(210,0,0)"/><rect x="351.89" y="52.8" width="9.45" height="8.70" fill="rgb(200,0,0)"/><rect x="360.74" y="52.8" width="9.45" height="8.70" fill="rgb(210,0,0)"/><rect x="369.59" y="52.8" width="9.45" height="8.70" fill="rgb(250,0,0)"/><rect x="378.43" y="52.8" width="9.45" height="8.70" fill="rgb(240,0,0)"/><rect x="387.28" y="52.8" width="9.45" height="8.70" fill="rgb(160,0,0)"/><rect x="396.13" y="52.8" width="9.45" height="8.70" fill="rgb(200,0,0)"/><rect x="404.98" y="52.8" width="9.45" height="8.70" fill="rgb(190,0,0)"/><rect x="413.83" y="52.8" width="9.45" height="8.70" fill="rgb(230,0,0)"/><rect x="422.67" y="52.8" width="9.45" height="8.70" fill="rgb(210,0,0)"/><rect x="431.52" y="52.8" width="9.45" height="8.70" fill="rgb(200,0,0)"/><rect x="440.37" y="52.8" width="9.45" height="8.70" fill="rgb(240,0,0)"/><rect x="449.22" y="52.8" width="9.45" height="8.70" fill="rgb(190,0,0)"/><rect x="458.07" y="52.8" width="9.45" height="8.70" fill="rgb(210,0,0)"/><rect x="466.91" y="52.8" width="9.45" height="8.70" fill="rgb(170,0,0)"/><rect x="475.76" y="52.8" width="9.45" height="8.70" fill="rgb(170,0,0)"/><rect x="484.61" y="52.8" width="9.45" height="8.70" fill="rgb(150,0,0)"/><rect x="493.46" y="52.8" width="9.45" height="8.70" fill="rgb(190,0,0)"/><rect x="502.30" y="52.8" width="9.45" height="8.70" fill="rgb(190,0,0)"/><rect x="511.15" y="52.8" width="8.85" height="8.70" fill="rgb(0,240,0)"/><text x="294.1" y="59.9" font-size="6.4" font-style="italic" fill="#2a2a2a" class="k s">Galgt1</text><text x="523.0" y="51.0" font-size="6.3" font-style="italic" fill="#2a2a2a" class="k s">p-value</text><text x="522.0" y="60.6" font-size="6.6" fill="#2a2a2a" class="k s">&lt;0.0001</text><rect x="354" y="62.4" width="123" height="6.90" fill="url(#cbg)" stroke="#000" stroke-width="0.8"/><text x="342.0" y="75.6" font-size="6.9" fill="#333" class="k s">row min</text><text x="464.5" y="75.6" font-size="6.9" fill="#333" class="k s">row max</text></g>
<g><text x="268.1" y="110.0" font-size="13" fill="#111" class="k">f</text><text x="396.3" y="85.9" font-size="8.8" fill="#222" class="k">GM1agc levels</text><text transform="translate(321.15,114.50) rotate(-89.7) scale(0.25)" text-rendering="geometricPrecision" font-size="20.60" fill="#959595" stroke="#959595" stroke-width="0.6">KK/HIJ</text><text transform="translate(330.03,114.50) rotate(-89.7) scale(0.25)" text-rendering="geometricPrecision" font-size="20.60" fill="#959595" stroke="#959595" stroke-width="0.6">129X1/SvJ</text><text transform="translate(338.90,114.50) rotate(-89.7) scale(0.25)" text-rendering="geometricPrecision" font-size="20.60" fill="#959595" stroke="#959595" stroke-width="0.6">LP/J</text><text transform="translate(347.77,114.50) rotate(-89.7) scale(0.25)" text-rendering="geometricPrecision" font-size="20.60" fill="#959595" stroke="#959595" stroke-width="0.6">BTBR T+ +tf/J</text><text transform="translate(356.64,114.50) rotate(-89.7) scale(0.25)" text-rendering="geometricPrecision" font-size="20.60" fill="#959595" stroke="#959595" stroke-width="0.6">C57BL/6J</text><text transform="translate(365.52,114.50) rotate(-89.7) scale(0.25)" text-rendering="geometricPrecision" font-size="20.60" fill="#959595" stroke="#959595" stroke-width="0.6">SEA/GnJ</text><text transform="translate(374.39,114.50) rotate(-89.7) scale(0.25)" text-rendering="geometricPrecision" font-size="20.60" fill="#959595" stroke="#959595" stroke-width="0.6">NOD/ShiLtJ</text><text transform="translate(383.26,114.50) rotate(-89.7) scale(0.25)" text-rendering="geometricPrecision" font-size="20.60" fill="#959595" stroke="#959595" stroke-width="0.6">SM/J</text><text transform="translate(392.14,114.50) rotate(-89.7) scale(0.25)" text-rendering="geometricPrecision" font-size="20.60" fill="#959595" stroke="#959595" stroke-width="0.6">NON/LtJ</text><text transform="translate(401.01,114.50) rotate(-89.7) scale(0.25)" text-rendering="geometricPrecision" font-size="20.60" fill="#959595" stroke="#959595" stroke-width="0.6">LG/J</text><text transform="translate(409.88,114.50) rotate(-89.7) scale(0.25)" text-rendering="geometricPrecision" font-size="20.60" fill="#959595" stroke="#959595" stroke-width="0.6">A/J</text><text transform="translate(418.75,114.50) rotate(-89.7) scale(0.25)" text-rendering="geometricPrecision" font-size="20.60" fill="#959595" stroke="#959595" stroke-width="0.6">CBA/J</text><text transform="translate(427.63,114.50) rotate(-89.7) scale(0.25)" text-rendering="geometricPrecision" font-size="20.60" fill="#959595" stroke="#959595" stroke-width="0.6">AKR/J</text><text transform="translate(436.50,114.50) rotate(-89.7) scale(0.25)" text-rendering="geometricPrecision" font-size="20.60" fill="#959595" stroke="#959595" stroke-width="0.6">DBA/2J</text><text transform="translate(445.37,114.50) rotate(-89.7) scale(0.25)" text-rendering="geometricPrecision" font-size="20.60" fill="#959595" stroke="#959595" stroke-width="0.6">RIIIS/J</text><text transform="translate(454.24,114.50) rotate(-89.7) scale(0.25)" text-rendering="geometricPrecision" font-size="20.60" fill="#959595" stroke="#959595" stroke-width="0.6">NZB/BINJ</text><text transform="translate(463.12,114.50) rotate(-89.7) scale(0.25)" text-rendering="geometricPrecision" font-size="20.60" fill="#959595" stroke="#959595" stroke-width="0.6">C58/J</text><text transform="translate(471.99,114.50) rotate(-89.7) scale(0.25)" text-rendering="geometricPrecision" font-size="20.60" fill="#959595" stroke="#959595" stroke-width="0.6">CE/J</text><text transform="translate(480.86,114.50) rotate(-89.7) scale(0.25)" text-rendering="geometricPrecision" font-size="20.60" fill="#959595" stroke="#959595" stroke-width="0.6">SWR/J</text><text transform="translate(489.74,114.50) rotate(-89.7) scale(0.25)" text-rendering="geometricPrecision" font-size="20.60" fill="#959595" stroke="#959595" stroke-width="0.6">PL/J</text><text transform="translate(498.61,114.50) rotate(-89.7) scale(0.25)" text-rendering="geometricPrecision" font-size="20.60" fill="#959595" stroke="#959595" stroke-width="0.6">BALB/cJ</text><text transform="translate(507.48,114.50) rotate(-89.7) scale(0.25)" text-rendering="geometricPrecision" font-size="20.60" fill="#959595" stroke="#959595" stroke-width="0.6">MA/MyJ</text><text transform="translate(516.35,114.50) rotate(-89.7) scale(0.25)" text-rendering="geometricPrecision" font-size="20.60" fill="#959595" stroke="#959595" stroke-width="0.6">NZW/LacJ</text><polygon points="316.3,128.29999999999998 519.3,117.6 519.3,128.6 316.3,128.6" fill="#fff" stroke="#111" stroke-width="0.9" stroke-linejoin="miter"/><text x="467.3" y="127.6" font-size="7.6" fill="#222" class="k">GM1agc levels</text><rect x="316.00" y="131.0" width="9.47" height="8.90" fill="rgb(0,230,0)"/><rect x="324.87" y="131.0" width="9.47" height="8.90" fill="rgb(110,0,0)"/><rect x="333.74" y="131.0" width="9.47" height="8.90" fill="rgb(0,150,0)"/><rect x="342.61" y="131.0" width="9.47" height="8.90" fill="rgb(0,120,0)"/><rect x="351.48" y="131.0" width="9.47" height="8.90" fill="rgb(100,0,0)"/><rect x="360.35" y="131.0" width="9.47" height="8.90" fill="rgb(0,230,0)"/><rect x="369.22" y="131.0" width="9.47" height="8.90" fill="rgb(0,120,0)"/><rect x="378.09" y="131.0" width="9.47" height="8.90" fill="rgb(0,200,0)"/><rect x="386.96" y="131.0" width="9.47" height="8.90" fill="rgb(120,0,0)"/><rect x="395.83" y="131.0" width="9.47" height="8.90" fill="rgb(80,0,0)"/><rect x="404.70" y="131.0" width="9.47" height="8.90" fill="rgb(170,0,0)"/><rect x="413.57" y="131.0" width="9.47" height="8.90" fill="rgb(250,0,0)"/><rect x="422.43" y="131.0" width="9.47" height="8.90" fill="rgb(240,0,0)"/><rect x="431.30" y="131.0" width="9.47" height="8.90" fill="rgb(110,0,0)"/><rect x="440.17" y="131.0" width="9.47" height="8.90" fill="rgb(160,0,0)"/><rect x="449.04" y="131.0" width="9.47" height="8.90" fill="rgb(0,170,0)"/><rect x="457.91" y="131.0" width="9.47" height="8.90" fill="rgb(60,0,0)"/><rect x="466.78" y="131.0" width="9.47" height="8.90" fill="rgb(110,0,0)"/><rect x="475.65" y="131.0" width="9.47" height="8.90" fill="rgb(20,0,0)"/><rect x="484.52" y="131.0" width="9.47" height="8.90" fill="rgb(220,0,0)"/><rect x="493.39" y="131.0" width="9.47" height="8.90" fill="rgb(190,0,0)"/><rect x="502.26" y="131.0" width="9.47" height="8.90" fill="rgb(200,0,0)"/><rect x="511.13" y="131.0" width="8.87" height="8.90" fill="rgb(150,0,0)"/><text x="290.7" y="137.6" font-size="6.4" font-style="italic" fill="#2a2a2a" class="k s">Slc17a2</text><text x="523.0" y="128.5" font-size="6.3" font-style="italic" fill="#2a2a2a" class="k s">p-value</text><text x="523.0" y="138.8" font-size="6.6" fill="#2a2a2a" class="k s">0.0482</text><rect x="354" y="139.7" width="123" height="7.00" fill="url(#cbg)" stroke="#000" stroke-width="0.8"/><text x="342.0" y="153.0" font-size="6.9" fill="#333" class="k s">row min</text><text x="464.5" y="153.0" font-size="6.9" fill="#333" class="k s">row max</text></g>
<g><text x="270.5" y="201.9" font-size="13" fill="#111" class="k">g</text><text x="398.2" y="192.7" font-size="8.8" fill="#222" class="k">Gb3 levels</text><text transform="translate(323.34,222.00) rotate(-89.7) scale(0.25)" text-rendering="geometricPrecision" font-size="20.40" fill="#959595" stroke="#959595" stroke-width="0.6">KK/HIJ</text><text transform="translate(332.17,222.00) rotate(-89.7) scale(0.25)" text-rendering="geometricPrecision" font-size="20.40" fill="#959595" stroke="#959595" stroke-width="0.6">129X1/SvJ</text><text transform="translate(341.01,222.00) rotate(-89.7) scale(0.25)" text-rendering="geometricPrecision" font-size="20.40" fill="#959595" stroke="#959595" stroke-width="0.6">LP/J</text><text transform="translate(349.85,222.00) rotate(-89.7) scale(0.25)" text-rendering="geometricPrecision" font-size="20.40" fill="#959595" stroke="#959595" stroke-width="0.6">BTBR T+ +tf/J</text><text transform="translate(358.68,222.00) rotate(-89.7) scale(0.25)" text-rendering="geometricPrecision" font-size="20.40" fill="#959595" stroke="#959595" stroke-width="0.6">C57BL/6J</text><text transform="translate(367.52,222.00) rotate(-89.7) scale(0.25)" text-rendering="geometricPrecision" font-size="20.40" fill="#959595" stroke="#959595" stroke-width="0.6">SEA/GnJ</text><text transform="translate(376.35,222.00) rotate(-89.7) scale(0.25)" text-rendering="geometricPrecision" font-size="20.40" fill="#959595" stroke="#959595" stroke-width="0.6">NOD/ShiLtJ</text><text transform="translate(385.19,222.00) rotate(-89.7) scale(0.25)" text-rendering="geometricPrecision" font-size="20.40" fill="#959595" stroke="#959595" stroke-width="0.6">SM/J</text><text transform="translate(394.03,222.00) rotate(-89.7) scale(0.25)" text-rendering="geometricPrecision" font-size="20.40" fill="#959595" stroke="#959595" stroke-width="0.6">NON/LtJ</text><text transform="translate(402.86,222.00) rotate(-89.7) scale(0.25)" text-rendering="geometricPrecision" font-size="20.40" fill="#959595" stroke="#959595" stroke-width="0.6">LG/J</text><text transform="translate(411.70,222.00) rotate(-89.7) scale(0.25)" text-rendering="geometricPrecision" font-size="20.40" fill="#959595" stroke="#959595" stroke-width="0.6">A/J</text><text transform="translate(420.54,222.00) rotate(-89.7) scale(0.25)" text-rendering="geometricPrecision" font-size="20.40" fill="#959595" stroke="#959595" stroke-width="0.6">CBA/J</text><text transform="translate(429.37,222.00) rotate(-89.7) scale(0.25)" text-rendering="geometricPrecision" font-size="20.40" fill="#959595" stroke="#959595" stroke-width="0.6">AKR/J</text><text transform="translate(438.21,222.00) rotate(-89.7) scale(0.25)" text-rendering="geometricPrecision" font-size="20.40" fill="#959595" stroke="#959595" stroke-width="0.6">DBA/2J</text><text transform="translate(447.05,222.00) rotate(-89.7) scale(0.25)" text-rendering="geometricPrecision" font-size="20.40" fill="#959595" stroke="#959595" stroke-width="0.6">RIIIS/J</text><text transform="translate(455.88,222.00) rotate(-89.7) scale(0.25)" text-rendering="geometricPrecision" font-size="20.40" fill="#959595" stroke="#959595" stroke-width="0.6">NZB/BINJ</text><text transform="translate(464.72,222.00) rotate(-89.7) scale(0.25)" text-rendering="geometricPrecision" font-size="20.40" fill="#959595" stroke="#959595" stroke-width="0.6">C58/J</text><text transform="translate(473.55,222.00) rotate(-89.7) scale(0.25)" text-rendering="geometricPrecision" font-size="20.40" fill="#959595" stroke="#959595" stroke-width="0.6">CE/J</text><text transform="translate(482.39,222.00) rotate(-89.7) scale(0.25)" text-rendering="geometricPrecision" font-size="20.40" fill="#959595" stroke="#959595" stroke-width="0.6">SWR/J</text><text transform="translate(491.23,222.00) rotate(-89.7) scale(0.25)" text-rendering="geometricPrecision" font-size="20.40" fill="#959595" stroke="#959595" stroke-width="0.6">PL/J</text><text transform="translate(500.06,222.00) rotate(-89.7) scale(0.25)" text-rendering="geometricPrecision" font-size="20.40" fill="#959595" stroke="#959595" stroke-width="0.6">BALB/cJ</text><text transform="translate(508.90,222.00) rotate(-89.7) scale(0.25)" text-rendering="geometricPrecision" font-size="20.40" fill="#959595" stroke="#959595" stroke-width="0.6">MA/MyJ</text><text transform="translate(517.74,222.00) rotate(-89.7) scale(0.25)" text-rendering="geometricPrecision" font-size="20.40" fill="#959595" stroke="#959595" stroke-width="0.6">NZW/LacJ</text><polygon points="317.5,235.89999999999998 521.4,225.3 521.4,236.2 317.5,236.2" fill="#fff" stroke="#111" stroke-width="0.9" stroke-linejoin="miter"/><text x="480.9" y="233.6" font-size="7.6" fill="#222" class="k">Gb3 levels</text><rect x="317.10" y="238.0" width="9.44" height="8.10" fill="rgb(0,35,0)"/><rect x="325.94" y="238.0" width="9.44" height="8.10" fill="rgb(0,35,0)"/><rect x="334.79" y="238.0" width="9.44" height="8.10" fill="rgb(0,130,0)"/><rect x="343.63" y="238.0" width="9.44" height="8.10" fill="rgb(0,70,0)"/><rect x="352.47" y="238.0" width="9.44" height="8.10" fill="rgb(50,0,0)"/><rect x="361.32" y="238.0" width="9.44" height="8.10" fill="rgb(0,60,0)"/><rect x="370.16" y="238.0" width="9.44" height="8.10" fill="rgb(0,240,0)"/><rect x="379.00" y="238.0" width="9.44" height="8.10" fill="rgb(0,70,0)"/><rect x="387.85" y="238.0" width="9.44" height="8.10" fill="rgb(0,70,0)"/><rect x="396.69" y="238.0" width="9.44" height="8.10" fill="rgb(50,0,0)"/><rect x="405.53" y="238.0" width="9.44" height="8.10" fill="rgb(0,60,0)"/><rect x="414.38" y="238.0" width="9.44" height="8.10" fill="rgb(0,70,0)"/><rect x="423.22" y="238.0" width="9.44" height="8.10" fill="rgb(60,0,0)"/><rect x="432.07" y="238.0" width="9.44" height="8.10" fill="rgb(0,80,0)"/><rect x="440.91" y="238.0" width="9.44" height="8.10" fill="rgb(70,0,0)"/><rect x="449.75" y="238.0" width="9.44" height="8.10" fill="rgb(0,25,0)"/><rect x="458.60" y="238.0" width="9.44" height="8.10" fill="rgb(0,20,0)"/><rect x="467.44" y="238.0" width="9.44" height="8.10" fill="rgb(30,0,0)"/><rect x="476.28" y="238.0" width="9.44" height="8.10" fill="rgb(80,0,0)"/><rect x="485.13" y="238.0" width="9.44" height="8.10" fill="rgb(0,130,0)"/><rect x="493.97" y="238.0" width="9.44" height="8.10" fill="rgb(0,140,0)"/><rect x="502.81" y="238.0" width="9.44" height="8.10" fill="rgb(140,0,0)"/><rect x="511.66" y="238.0" width="8.84" height="8.10" fill="rgb(250,0,0)"/><text x="295.9" y="244.9" font-size="6.4" font-style="italic" fill="#2a2a2a" class="k s">A4galt</text><text x="525.0" y="235.0" font-size="6.3" font-style="italic" fill="#2a2a2a" class="k s">p-value</text><text x="525.0" y="244.6" font-size="6.6" fill="#2a2a2a" class="k s">0.0024</text><rect x="356" y="247.1" width="123" height="7.10" fill="url(#cbg)" stroke="#000" stroke-width="0.8"/><text x="344.0" y="260.5" font-size="6.9" fill="#333" class="k s">row min</text><text x="466.5" y="260.5" font-size="6.9" fill="#333" class="k s">row max</text></g>
<g><text x="267.7" y="294.4" font-size="13" fill="#111" class="k">h</text><text x="396.3" y="278.4" font-size="8.8" fill="#222" class="k">GM1b levels</text><text transform="translate(321.77,310.20) rotate(-89.7) scale(0.25)" text-rendering="geometricPrecision" font-size="20.80" fill="#959595" stroke="#959595" stroke-width="0.6">RIIIS/J</text><text transform="translate(330.67,310.20) rotate(-89.7) scale(0.25)" text-rendering="geometricPrecision" font-size="20.80" fill="#959595" stroke="#959595" stroke-width="0.6">LG/J</text><text transform="translate(339.56,310.20) rotate(-89.7) scale(0.25)" text-rendering="geometricPrecision" font-size="20.80" fill="#959595" stroke="#959595" stroke-width="0.6">KK/HIJ</text><text transform="translate(348.46,310.20) rotate(-89.7) scale(0.25)" text-rendering="geometricPrecision" font-size="20.80" fill="#959595" stroke="#959595" stroke-width="0.6">SEA/GnJ</text><text transform="translate(357.35,310.20) rotate(-89.7) scale(0.25)" text-rendering="geometricPrecision" font-size="20.80" fill="#959595" stroke="#959595" stroke-width="0.6">SWR/J</text><text transform="translate(366.25,310.20) rotate(-89.7) scale(0.25)" text-rendering="geometricPrecision" font-size="20.80" fill="#959595" stroke="#959595" stroke-width="0.6">CE/J</text><text transform="translate(375.14,310.20) rotate(-89.7) scale(0.25)" text-rendering="geometricPrecision" font-size="20.80" fill="#959595" stroke="#959595" stroke-width="0.6">MA/MyJ</text><text transform="translate(384.04,310.20) rotate(-89.7) scale(0.25)" text-rendering="geometricPrecision" font-size="20.80" fill="#959595" stroke="#959595" stroke-width="0.6">BALB/cJ</text><text transform="translate(392.94,310.20) rotate(-89.7) scale(0.25)" text-rendering="geometricPrecision" font-size="20.80" fill="#959595" stroke="#959595" stroke-width="0.6">SM/J</text><text transform="translate(401.83,310.20) rotate(-89.7) scale(0.25)" text-rendering="geometricPrecision" font-size="20.80" fill="#959595" stroke="#959595" stroke-width="0.6">A/J</text><text transform="translate(410.73,310.20) rotate(-89.7) scale(0.25)" text-rendering="geometricPrecision" font-size="20.80" fill="#959595" stroke="#959595" stroke-width="0.6">NZW/LacJ</text><text transform="translate(419.62,310.20) rotate(-89.7) scale(0.25)" text-rendering="geometricPrecision" font-size="20.80" fill="#959595" stroke="#959595" stroke-width="0.6">AKR/J</text><text transform="translate(428.52,310.20) rotate(-89.7) scale(0.25)" text-rendering="geometricPrecision" font-size="20.80" fill="#959595" stroke="#959595" stroke-width="0.6">CBA/J</text><text transform="translate(437.41,310.20) rotate(-89.7) scale(0.25)" text-rendering="geometricPrecision" font-size="20.80" fill="#959595" stroke="#959595" stroke-width="0.6">NZB/BINJ</text><text transform="translate(446.31,310.20) rotate(-89.7) scale(0.25)" text-rendering="geometricPrecision" font-size="20.80" fill="#959595" stroke="#959595" stroke-width="0.6">129X1/SvJ</text><text transform="translate(455.20,310.20) rotate(-89.7) scale(0.25)" text-rendering="geometricPrecision" font-size="20.80" fill="#959595" stroke="#959595" stroke-width="0.6">LP/J</text><text transform="translate(464.10,310.20) rotate(-89.7) scale(0.25)" text-rendering="geometricPrecision" font-size="20.80" fill="#959595" stroke="#959595" stroke-width="0.6">C57BL/6J</text><text transform="translate(472.99,310.20) rotate(-89.7) scale(0.25)" text-rendering="geometricPrecision" font-size="20.80" fill="#959595" stroke="#959595" stroke-width="0.6">DBA/2J</text><text transform="translate(481.89,310.20) rotate(-89.7) scale(0.25)" text-rendering="geometricPrecision" font-size="20.80" fill="#959595" stroke="#959595" stroke-width="0.6">NON/LtJ</text><text transform="translate(490.79,310.20) rotate(-89.7) scale(0.25)" text-rendering="geometricPrecision" font-size="20.80" fill="#959595" stroke="#959595" stroke-width="0.6">PL/J</text><text transform="translate(499.68,310.20) rotate(-89.7) scale(0.25)" text-rendering="geometricPrecision" font-size="20.80" fill="#959595" stroke="#959595" stroke-width="0.6">BTBR T+ +tf/J</text><text transform="translate(508.58,310.20) rotate(-89.7) scale(0.25)" text-rendering="geometricPrecision" font-size="20.80" fill="#959595" stroke="#959595" stroke-width="0.6">C58/J</text><text transform="translate(517.47,310.20) rotate(-89.7) scale(0.25)" text-rendering="geometricPrecision" font-size="20.80" fill="#959595" stroke="#959595" stroke-width="0.6">NOD/ShiLtJ</text><polygon points="316.0,319.0 519.1,308.2 519.1,319.3 316.0,319.3" fill="#fff" stroke="#111" stroke-width="0.9" stroke-linejoin="miter"/><text x="475.5" y="318.0" font-size="7.6" fill="#222" class="k">GM1b levels</text><rect x="315.90" y="320.6" width="9.43" height="9.60" fill="rgb(140,0,0)"/><rect x="324.73" y="320.6" width="9.43" height="9.60" fill="rgb(210,0,0)"/><rect x="333.56" y="320.6" width="9.43" height="9.60" fill="rgb(200,0,0)"/><rect x="342.39" y="320.6" width="9.43" height="9.60" fill="rgb(170,0,0)"/><rect x="351.22" y="320.6" width="9.43" height="9.60" fill="rgb(180,0,0)"/><rect x="360.05" y="320.6" width="9.43" height="9.60" fill="rgb(170,0,0)"/><rect x="368.88" y="320.6" width="9.43" height="9.60" fill="rgb(210,0,0)"/><rect x="377.71" y="320.6" width="9.43" height="9.60" fill="rgb(240,0,0)"/><rect x="386.54" y="320.6" width="9.43" height="9.60" fill="rgb(210,0,0)"/><rect x="395.37" y="320.6" width="9.43" height="9.60" fill="rgb(200,0,0)"/><rect x="404.20" y="320.6" width="9.43" height="9.60" fill="rgb(170,0,0)"/><rect x="413.03" y="320.6" width="9.43" height="9.60" fill="rgb(170,0,0)"/><rect x="421.87" y="320.6" width="9.43" height="9.60" fill="rgb(170,0,0)"/><rect x="430.70" y="320.6" width="9.43" height="9.60" fill="rgb(220,0,0)"/><rect x="439.53" y="320.6" width="9.43" height="9.60" fill="rgb(240,0,0)"/><rect x="448.36" y="320.6" width="9.43" height="9.60" fill="rgb(250,0,0)"/><rect x="457.19" y="320.6" width="9.43" height="9.60" fill="rgb(220,0,0)"/><rect x="466.02" y="320.6" width="9.43" height="9.60" fill="rgb(160,0,0)"/><rect x="474.85" y="320.6" width="9.43" height="9.60" fill="rgb(210,0,0)"/><rect x="483.68" y="320.6" width="9.43" height="9.60" fill="rgb(210,0,0)"/><rect x="492.51" y="320.6" width="9.43" height="9.60" fill="rgb(240,0,0)"/><rect x="501.34" y="320.6" width="9.43" height="9.60" fill="rgb(220,0,0)"/><rect x="510.17" y="320.6" width="8.83" height="9.60" fill="rgb(0,240,0)"/><rect x="315.90" y="329.6" width="9.43" height="8.60" fill="rgb(0,30,0)"/><rect x="324.73" y="329.6" width="9.43" height="8.60" fill="rgb(100,0,0)"/><rect x="333.56" y="329.6" width="9.43" height="8.60" fill="rgb(50,0,0)"/><rect x="342.39" y="329.6" width="9.43" height="8.60" fill="rgb(0,50,0)"/><rect x="351.22" y="329.6" width="9.43" height="8.60" fill="rgb(0,200,0)"/><rect x="360.05" y="329.6" width="9.43" height="8.60" fill="rgb(250,0,0)"/><rect x="368.88" y="329.6" width="9.43" height="8.60" fill="rgb(20,0,0)"/><rect x="377.71" y="329.6" width="9.43" height="8.60" fill="rgb(0,70,0)"/><rect x="386.54" y="329.6" width="9.43" height="8.60" fill="rgb(0,90,0)"/><rect x="395.37" y="329.6" width="9.43" height="8.60" fill="rgb(220,0,0)"/><rect x="404.20" y="329.6" width="9.43" height="8.60" fill="rgb(0,30,0)"/><rect x="413.03" y="329.6" width="9.43" height="8.60" fill="rgb(0,150,0)"/><rect x="421.87" y="329.6" width="9.43" height="8.60" fill="rgb(0,30,0)"/><rect x="430.70" y="329.6" width="9.43" height="8.60" fill="rgb(0,130,0)"/><rect x="439.53" y="329.6" width="9.43" height="8.60" fill="rgb(0,50,0)"/><rect x="448.36" y="329.6" width="9.43" height="8.60" fill="rgb(20,0,0)"/><rect x="457.19" y="329.6" width="9.43" height="8.60" fill="rgb(0,30,0)"/><rect x="466.02" y="329.6" width="9.43" height="8.60" fill="rgb(0,140,0)"/><rect x="474.85" y="329.6" width="9.43" height="8.60" fill="rgb(60,0,0)"/><rect x="483.68" y="329.6" width="9.43" height="8.60" fill="rgb(10,0,0)"/><rect x="492.51" y="329.6" width="9.43" height="8.60" fill="rgb(0,240,0)"/><rect x="501.34" y="329.6" width="9.43" height="8.60" fill="rgb(0,30,0)"/><rect x="510.17" y="329.6" width="8.83" height="8.60" fill="rgb(0,140,0)"/><text x="291.8" y="326.7" font-size="6.4" font-style="italic" fill="#2a2a2a" class="k s">Galgt1</text><text x="290.7" y="335.5" font-size="6.4" font-style="italic" fill="#2a2a2a" class="k s">St8sia5</text><text x="523.2" y="319.1" font-size="6.3" font-style="italic" fill="#2a2a2a" class="k s">p-value</text><text x="525.7" y="328.9" font-size="6.6" fill="#2a2a2a" class="k s">0.004</text><text x="525.7" y="336.9" font-size="6.6" fill="#2a2a2a" class="k s">0.046</text><rect x="354" y="338.9" width="123" height="7.40" fill="url(#cbg)" stroke="#000" stroke-width="0.8"/><text x="342.0" y="352.6" font-size="6.9" fill="#333" class="k s">row min</text><text x="464.5" y="352.6" font-size="6.9" fill="#333" class="k s">row max</text></g>
</svg></body></html>
